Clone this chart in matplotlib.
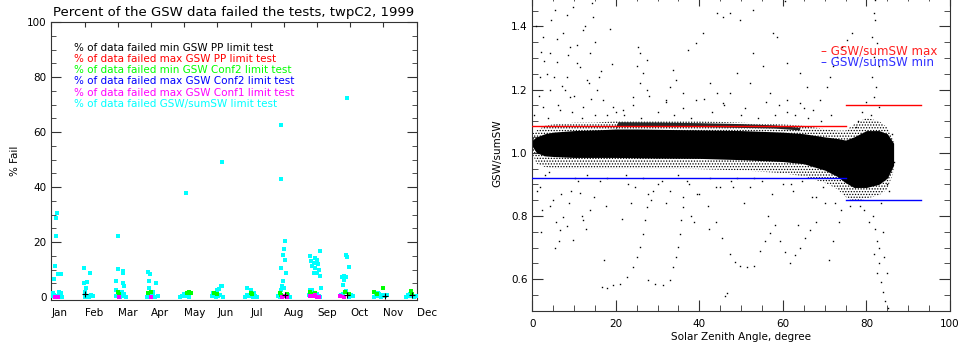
import numpy as np
import matplotlib
matplotlib.use("Agg")
import matplotlib.pyplot as plt
from matplotlib.ticker import MultipleLocator

# ---- left panel data (x in month-tick units, Jan=0 ... Dec=11) ----
months = ['Jan', 'Feb', 'Mar', 'Apr', 'May', 'Jun', 'Jul', 'Aug', 'Sep', 'Oct', 'Nov', 'Dec']

cyan_x = [0.16, 0.14, 0.15, 0.12, 0.28, 0.19, 0.08, 0.23, 0.05, 0.30,
          0.99, 1.16, 1.08, 0.99, 1.05, 1.00,
          2.00, 2.00, 2.16, 2.17, 1.96, 2.15, 2.18, 1.95, 2.12,
          2.92, 2.97, 2.95, 3.15, 2.95, 3.05,
          4.06, 4.00,
          5.15, 4.88, 5.00, 5.05, 5.10, 5.13,
          5.88, 6.02, 6.10,
          6.92, 6.92, 7.04, 7.00, 6.98, 7.05, 6.92, 7.06, 6.98, 6.95, 6.90, 7.02,
          7.79, 7.83, 7.95, 8.00, 8.08, 7.90, 7.85, 7.93, 8.02, 8.05, 8.00, 8.10, 7.90, 8.12, 7.78, 7.84,
          8.90, 8.88, 8.90, 8.95, 8.75, 8.82, 8.88, 8.82, 8.78, 8.88,
          9.85, 10.80,
          # bottom blobs
          0.02, 0.08, 0.14, 0.20, 0.26, 0.31,
          1.02, 1.08, 1.14, 1.20, 1.25,
          1.94, 2.00, 2.06, 2.12, 2.18, 2.26,
          2.89, 2.95, 3.01, 3.07, 3.13, 3.20,
          3.86, 3.92, 3.98, 4.04, 4.10, 4.16,
          4.85, 4.91, 4.97, 5.03, 5.09, 5.16,
          5.84, 5.90, 5.96, 6.02, 6.08, 6.14, 6.19,
          6.83, 6.89, 7.08, 7.14, 7.18,
          7.75, 7.99, 8.07, 8.10,
          8.71, 8.77, 8.95, 9.01, 9.07,
          9.70, 9.76, 9.82, 9.88, 9.94, 10.00, 10.06, 10.10,
          10.67, 10.73, 10.79, 10.85, 10.91, 10.97, 11.0]
cyan_y = [30.5, 28.7, 22.3, 11.5, 8.5, 8.4, 6.5, 1.8, 1.6, 1.5,
          10.5, 8.7, 5.6, 5.1, 3.3, 1.8,
          22.3, 10.2, 9.5, 8.7, 6.0, 5.0, 4.1, 2.7, 1.8,
          9.0, 8.5, 6.0, 5.1, 3.3, 1.9,
          37.8, 1.2,
          49.3, 1.7, 2.7, 3.1, 4.1, 4.0,
          3.5, 2.6, 1.5,
          62.6, 42.9, 20.4, 17.4, 15.4, 13.4, 10.8, 8.7, 5.8, 4.0, 2.6, 3.3,
          15.1, 13.3, 14.4, 13.5, 16.9, 12.6, 11.5, 10.5, 12.1, 9.9, 8.9, 7.7, 8.7, 3.3, 2.7, 2.5,
          72.3, 15.4, 14.6, 11.1, 7.5, 7.6, 7.3, 6.4, 4.6, 2.4,
          1.5, 1.2,
          0.3, 0.8, 0.2, 0.6, 0.9, 0.1,
          0.2, 0.6, 0.1, 0.7, 0.3,
          0.3, 0.9, 0.2, 0.6, 1.0, 0.2,
          0.2, 0.7, 0.3, 0.9, 0.2, 0.5,
          0.2, 0.6, 0.9, 0.3, 0.7, 0.2,
          0.3, 0.8, 0.2, 0.6, 0.9, 0.2,
          0.2, 0.7, 0.3, 0.9, 0.2, 0.6, 0.2,
          0.6, 0.2, 0.3, 0.8, 0.2,
          0.9, 1.1, 0.6, 0.2,
          0.8, 1.0, 0.2, 0.7, 0.3,
          0.2, 0.8, 0.3, 1.0, 0.2, 0.7, 0.3, 0.9,
          0.2, 0.7, 0.3, 0.9, 0.2, 0.6, 0.4]

green_x = [2.00, 2.05, 2.90, 3.00, 4.10, 4.16, 4.20, 4.90, 5.00, 6.00, 6.05,
           6.88, 6.90, 7.10, 7.80, 7.85, 7.95, 8.85, 8.95, 9.72, 10.00, 9.80, 10.82, 10.85]
green_y = [1.8, 1.2, 1.5, 2.0, 1.5, 1.8, 1.6, 1.6, 1.0, 1.5, 1.0,
           1.5, 0.8, 1.0, 2.0, 1.2, 1.5, 1.8, 1.0, 2.0, 3.3, 1.0, 2.2, 1.0]

magenta_x = [0.10, 0.20, 2.05, 3.00, 6.95, 7.05, 7.10,
             7.80, 7.88, 7.95, 8.00, 8.05, 8.70, 8.80]
magenta_y = [0.2, 0.0, 0.0, 0.0, 0.2, 0.5, 0.0,
             0.3, 0.5, 0.8, 0.2, 0.0, 0.3, 0.0]

black_x = [1.00, 7.05, 8.90, 10.05, 10.85]
black_y = [1.0, 0.8, 0.9, 0.5, 0.9]

legend_lines = ['% of data failed min GSW PP limit test',
                '% of data failed max GSW PP limit test',
                '% of data failed min GSW Conf2 limit test',
                '% of data failed max GSW Conf2 limit test',
                '% of data failed max GSW Conf1 limit test',
                '% of data failed GSW/sumSW limit test']
legend_colors = ['black', '#ff0000', '#00ff00', '#0000ff', '#ff00ff', '#00ffff']

# ---- right panel data ----
sza_env = [0, 1, 3, 5, 10, 15, 20, 25, 30, 40, 50, 60, 65, 70, 73, 75, 77, 80, 83, 85, 86.5]
core_hi = [1.04, 1.05, 1.06, 1.065, 1.07, 1.072, 1.075, 1.075, 1.074, 1.072, 1.07, 1.065,
           1.06, 1.05, 1.045, 1.04, 1.05, 1.07, 1.07, 1.06, 1.03]
core_lo = [1.02, 1.0, 0.99, 0.988, 0.985, 0.985, 0.985, 0.984, 0.983, 0.982, 0.978, 0.972,
           0.965, 0.945, 0.925, 0.905, 0.89, 0.89, 0.9, 0.92, 0.96]
halo_hi = [1.06, 1.07, 1.085, 1.09, 1.095, 1.095, 1.10, 1.10, 1.10, 1.10, 1.095, 1.09,
           1.085, 1.075, 1.07, 1.07, 1.09, 1.11, 1.10, 1.08, 1.04]
halo_lo = [1.0, 0.965, 0.955, 0.95, 0.95, 0.95, 0.95, 0.95, 0.95, 0.948, 0.944, 0.935,
           0.925, 0.905, 0.885, 0.86, 0.845, 0.855, 0.865, 0.885, 0.94]
stripe_x = [20, 20.5, 30, 40, 50, 58, 64]
stripe_hi = [1.085, 1.098, 1.097, 1.095, 1.092, 1.088, 1.08]
stripe_lo = [1.075, 1.085, 1.085, 1.083, 1.080, 1.078, 1.072]

out_x = [5.4, 8.2, 9.8, 14.2, 14.6, 2.6, 7.4, 12.2, 9.0, 4.2, 13.8, 5.8, 10.6, 1.8, 8.2, 13.0,
         15.4, 4.2, 9.0, 2.6, 6.6, 12.2, 17.0, 19.4, 21.8,
         25.4, 25.8, 27.4, 25.0, 26.6, 25.8, 27.4, 24.2,
         33.7, 34.5, 32.9, 36.1, 32.1,
         37.3, 39.3, 40.9, 44.1, 45.7, 42.5, 44.1, 39.3, 45.7,
         47.3, 49.7, 52.9, 57.7, 58.5, 52.9, 55.3, 48.9, 52.1, 60.9, 64.1, 65.7, 47.3, 56.9, 60.9, 64.1,
         67.3, 68.9, 70.5, 71.3, 72.1, 72.9, 74.1, 75.3, 76.5,
         81.7, 82.1, 81.3, 82.5, 81.7, 82.9, 81.3, 82.3, 81.7, 82.9, 82.1,
         1.8, 5.0, 7.4, 6.6, 8.2, 4.2, 11.4, 13.8, 12.2, 5.4, 9.8,
         16.6, 17.8, 19.4, 21.0, 22.6, 24.2, 25.0, 25.8, 26.6, 27.0, 27.4, 27.8,
         27.8, 29.4, 31.3, 32.9, 33.7, 34.5, 34.9, 35.3, 35.7, 36.1,
         44.0, 45.5, 47.4, 48.5, 49.8, 51.4, 53.0, 54.5, 55.8, 57.0, 58.2,
         59.3, 60.5, 61.7, 62.8, 64.0, 65.3, 66.5, 67.8,
         46.2, 46.5,
         81.5, 82.0, 82.5, 81.8, 83.0, 82.6, 83.5, 84.0, 84.5, 85.2, 83.0, 84.0, 80.5, 85.0, 84.2,
         40.0, 42.0, 38.0, 44.0, 36.0, 30.0, 32.0, 71.0, 72.0, 73.5, 70.0, 60.5,
         3.0, 11.0, 18.0, 23.0, 29.0, 37.0, 48.0, 53.0, 62.0, 68.0, 15.0, 20.0,
         # second batch of sparse points
         1.0, 2.0, 3.5, 4.5, 6.0, 7.0, 8.5, 10.0, 11.5, 12.5, 13.5, 15.0, 16.5, 18.5,
         0.5, 1.5, 2.8, 3.8, 5.2, 6.2, 7.8, 9.4, 10.8, 12.0, 14.0, 16.0, 18.0, 19.0,
         1.2, 2.4, 4.0, 5.6, 6.8, 8.8, 10.2, 11.8, 13.2, 14.8, 16.2, 17.6,
         22.0, 24.0, 26.0, 28.0, 30.0, 32.0, 34.0, 36.0, 38.0, 41.0, 43.0, 46.0,
         22.5, 24.5, 26.5, 28.5, 31.0, 33.0, 35.0, 37.5, 39.5, 42.5, 45.0, 47.5,
         50.0, 51.0, 54.0, 56.0, 58.0, 59.0, 61.0, 63.0, 65.0, 66.0, 69.0, 71.5,
         49.0, 52.0, 55.0, 57.5, 60.0, 62.5, 64.5, 67.0, 69.5, 72.5, 74.0, 76.0,
         78.0, 79.0, 80.0, 81.0, 83.5, 85.5, 86.0, 78.5, 79.5, 84.8, 86.5, 77.5,
         2.2, 6.4, 9.2, 12.8, 17.2, 21.4, 23.6, 38.6, 42.2, 50.6, 56.4, 63.6]
out_y = [1.452, 1.436, 1.462, 1.473, 1.43, 1.367, 1.378, 1.388, 1.336, 1.315, 1.315, 1.288, 1.283,
         1.241, 1.241, 1.23, 1.198, 1.198, 1.177, 1.146, 1.135, 1.146, 1.167, 1.146, 1.135,
         1.336, 1.315, 1.294, 1.273, 1.252, 1.22, 1.198, 1.177,
         1.262, 1.23, 1.209, 1.188, 1.167,
         1.325, 1.347, 1.378, 1.441, 1.431, 1.22, 1.188, 1.167, 1.156,
         1.441, 1.42, 1.452, 1.378, 1.367, 1.315, 1.273, 1.252, 1.22, 1.283, 1.252, 1.209, 1.188,
         1.188, 1.167, 1.156,
         1.135, 1.167, 1.209, 1.241, 1.273, 1.304, 1.336, 1.357, 1.378,
         1.441, 1.42, 1.367, 1.346, 1.304, 1.273, 1.241, 1.209, 1.177, 1.146, 1.483,
         0.892, 0.851, 0.798, 0.756, 0.767, 0.83, 0.872, 0.82, 0.788, 0.698, 0.725,
         0.576, 0.571, 0.581, 0.586, 0.607, 0.639, 0.67, 0.702, 0.744, 0.786, 0.828, 0.87,
         0.597, 0.586, 0.581, 0.597, 0.639, 0.67, 0.702, 0.744, 0.786, 0.828,
         0.78, 0.73, 0.68, 0.655, 0.64, 0.638, 0.64, 0.69, 0.72, 0.745, 0.77,
         0.72, 0.685, 0.65, 0.675, 0.70, 0.73, 0.755, 0.78,
         0.545, 0.555,
         0.80, 0.76, 0.72, 0.68, 0.65, 0.62, 0.59, 0.56, 0.53, 0.51, 0.70, 0.75, 0.78, 0.62, 0.67,
         0.87, 0.83, 0.80, 0.89, 0.86, 0.90, 0.84, 0.66, 0.72, 0.78, 0.84, 1.48,
         0.93, 0.91, 0.92, 0.90, 0.88, 0.91, 0.89, 0.92, 0.90, 0.86, 1.12, 1.13,
         1.40, 1.32, 1.25, 1.42, 1.36, 1.21, 1.31, 1.18, 1.27, 1.40, 1.22, 1.35, 1.26, 1.39,
         1.12, 1.18, 1.29, 1.11, 1.24, 1.15, 1.20, 1.13, 1.34, 1.11, 1.17, 1.24, 1.12, 1.28,
         0.88, 0.82, 0.94, 0.78, 0.87, 0.84, 0.92, 0.80, 0.93, 0.86, 0.91, 0.83,
         1.12, 1.15, 1.11, 1.18, 1.13, 1.16, 1.12, 1.14, 1.11, 1.17, 1.13, 1.15,
         0.93, 0.89, 0.92, 0.85, 0.91, 0.88, 0.93, 0.90, 0.87, 0.92, 0.89, 0.91,
         1.12, 1.14, 1.11, 1.16, 1.12, 1.15, 1.13, 1.12, 1.14, 1.11, 1.10, 1.12,
         0.92, 0.89, 0.91, 0.87, 0.90, 0.88, 0.91, 0.86, 0.89, 0.84, 0.82, 0.83,
         1.10, 1.13, 1.16, 1.12, 0.84, 0.88, 1.06, 0.83, 0.82, 0.90, 0.97, 1.08,
         0.75, 0.72, 0.88, 0.76, 0.66, 0.79, 0.84, 0.78, 0.76, 0.84, 0.80, 0.77]

max_x = [[0, 75], [75, 93]]
max_y = [[1.083, 1.083], [1.15, 1.15]]
min_x = [[0, 75], [75, 93]]
min_y = [[0.92, 0.92], [0.85, 0.85]]

plt.rcParams['font.family'] = 'DejaVu Sans'
plt.rcParams['hatch.linewidth'] = 0.6
spine_c = '#333333'

fig = plt.figure(figsize=(9.61, 3.47), dpi=100)

# ================= left panel =================
ax1 = fig.add_axes([51.3 / 961, 47 / 347, 365.4 / 961, 278 / 347])
ms = 2.6
ax1.plot(cyan_x, cyan_y, 's', color='#00ffff', ms=ms, mew=0, zorder=3)
ax1.plot(green_x, green_y, 's', color='#00ff00', ms=ms, mew=0, zorder=4)
ax1.plot(magenta_x, magenta_y, 's', color='#ff00ff', ms=ms, mew=0, zorder=4)
ax1.plot(black_x, black_y, '+', color='black', ms=4, mew=0.8, zorder=5)
ax1.set_xlim(0, 11)
ax1.set_ylim(-1, 100)
ax1.set_xticks(range(12))
ax1.set_xticklabels(months, ha='left')
ax1.tick_params(axis='x', bottom=False, top=True, labelbottom=True, direction='in',
                length=3.5, pad=6, labelsize=7.5, color=spine_c)
ax1.yaxis.set_major_locator(MultipleLocator(20))
ax1.yaxis.set_minor_locator(MultipleLocator(5))
ax1.tick_params(axis='y', which='both', left=True, right=True, direction='in', color=spine_c,
                labelsize=7.5)
ax1.tick_params(axis='y', which='major', length=7)
ax1.tick_params(axis='y', which='minor', length=3.5)
for s in ax1.spines.values():
    s.set_color(spine_c)
ax1.set_ylabel('% Fail', fontsize=7.5, labelpad=5)
ax1.set_title('Percent of the GSW data failed the tests, twpC2, 1999', fontsize=9.5, pad=4)
for i, (txt, c) in enumerate(zip(legend_lines, legend_colors)):
    ax1.text(0.063, 0.9076 - i * 0.0403, txt, transform=ax1.transAxes, color=c,
             fontsize=7.5, va='center', ha='left')

# ================= right panel =================
ax2 = fig.add_axes([532.3 / 961, 36.3 / 347, 417.7 / 961, 316 / 347])
ax2.fill_between(sza_env, halo_lo, halo_hi, facecolor='none', edgecolor='black',
                 hatch='......', lw=0, zorder=1)
ax2.fill_between(sza_env, core_lo, core_hi, color='black', lw=0, zorder=2)
ax2.fill_between(stripe_x, stripe_lo, stripe_hi, color='0.15', lw=0, zorder=2)
ax2.plot(out_x, out_y, 's', color='black', ms=1.0, mew=0, zorder=2)
for xs, ys in zip(max_x, max_y):
    ax2.plot(xs, ys, color='#ff0000', lw=1, zorder=3)
for xs, ys in zip(min_x, min_y):
    ax2.plot(xs, ys, color='#0000ff', lw=1, zorder=3)
ax2.set_xlim(0, 100)
ax2.set_ylim(0.5, 1.5)
ax2.xaxis.set_major_locator(MultipleLocator(20))
ax2.xaxis.set_minor_locator(MultipleLocator(5))
ax2.yaxis.set_minor_locator(MultipleLocator(0.05))
ax2.set_yticks([0.6, 0.8, 1.0, 1.2, 1.4])
ax2.set_yticklabels(['0.6', '0.8', '1.0', '1.2', '1.4'])
ax2.tick_params(which='both', direction='in', top=True, right=True, color=spine_c,
                labelsize=7.5)
ax2.tick_params(which='major', length=8)
ax2.tick_params(which='minor', length=4)
ax2.tick_params(axis='x', pad=6)
for s in ax2.spines.values():
    s.set_color(spine_c)
ax2.set_xlabel('Solar Zenith Angle, degree', fontsize=7.5, labelpad=2)
ax2.set_ylabel('GSW/sumSW', fontsize=7.5, labelpad=6)
ax2.text(0.69, 0.822, '\u2013 GSW/sumSW max', transform=ax2.transAxes, color='#ff2020',
         fontsize=8.6, va='center', ha='left')
ax2.text(0.69, 0.787, '\u2013 GSW/sumSW min', transform=ax2.transAxes, color='#3030ff',
         fontsize=8.6, va='center', ha='left')

fig.savefig('out.png', dpi=100)
